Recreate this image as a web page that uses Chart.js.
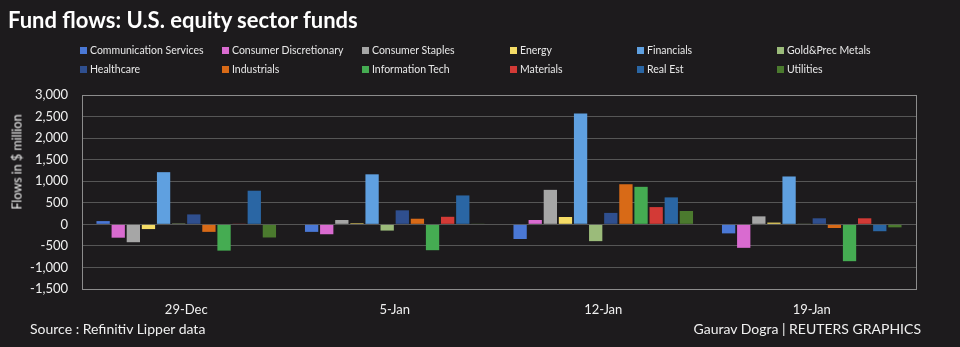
<!DOCTYPE html>
<html>
<head>
<meta charset="utf-8">
<script src="https://cdn.jsdelivr.net/npm/chart.js@4.4.0/dist/chart.umd.min.js"></script>
<style>
  html, body { margin: 0; padding: 0; background: #1d1b1d; }
  #wrap { position: relative; width: 960px; height: 347px; background: #1d1b1d; font-family: Lato, "Open Sans", sans-serif; color: #fff; overflow: hidden; }
  #title { position: absolute; left: 8px; top: 6px; font-size: 22px; font-weight: bold; color: #fff; white-space: nowrap; }
  #legend { position: absolute; left: 80px; top: 43px; display: grid; grid-template-columns: 142px 140px 148px 127px 140px 150px; row-gap: 5px; font-size: 10.5px; color: #e8e8e8; }
  #legend div { display: flex; align-items: center; white-space: nowrap; height: 14px; }
  #legend span { display: inline-block; width: 7px; height: 7px; margin-right: 3px; }
  #ytitle { position: absolute; left: 17px; top: 162px; transform: translate(-50%, -50%) rotate(-90deg); font-size: 12.5px; color: #f0f0f0; white-space: nowrap; }
  #src { position: absolute; left: 30px; top: 320px; font-size: 14px; color: #f0f0f0; }
  #credit { position: absolute; right: 39px; top: 320px; font-size: 14px; color: #f0f0f0; }
  canvas { position: absolute; left: 0; top: 0; }
</style>
</head>
<body>
<div id="wrap">
  <canvas id="chart" width="960" height="347"></canvas>
  <div id="title">Fund flows: U.S. equity sector funds</div>
  <div id="legend"></div>
  <div id="ytitle">Flows in $ million</div>
  <div id="src">Source : Refinitiv Lipper data</div>
  <div id="credit">Gaurav Dogra | REUTERS GRAPHICS</div>
</div>
<script>
const weeks = ['29-Dec', '5-Jan', '12-Jan', '19-Jan'];

const sectors = [
    'Communication Services', 'Consumer Discretionary', 'Consumer Staples', 'Energy',
    'Financials', 'Gold&Prec Metals', 'Healthcare', 'Industrials',
    'Information Tech', 'Materials', 'Real Est', 'Utilities'
];

const sectorColors = [
    '#4a78d6', '#d96bd0', '#a6a6a6', '#f5dc66',
    '#5fa0e0', '#9bbb7a', '#2f4f8f', '#d86a17',
    '#45ac52', '#d33a36', '#2a66a4', '#4b7a2e'
];

// flows in $ million, one array per sector (29-Dec, 5-Jan, 12-Jan, 19-Jan)
const commServices  = [75, -175, -340, -210];
const consDiscr     = [-310, -230, 100, -545];
const consStaples   = [-415, 100, 800, 185];
const energy        = [-110, 25, 170, 40];
const financials    = [1210, 1160, 2570, 1110];
const goldMetals    = [20, -145, -390, 15];
const healthcare    = [230, 325, 265, 140];
const industrials   = [-175, 130, 930, -85];
const infoTech      = [-610, -600, 870, -855];
const materials     = [15, 175, 400, 140];
const realEstate    = [780, 670, 625, -160];
const utilities     = [-305, 15, 310, -70];

const sectorValues = [commServices, consDiscr, consStaples, energy, financials, goldMetals,
    healthcare, industrials, infoTech, materials, realEstate, utilities];

const yTicks = [3000, 2500, 2000, 1500, 1000, 500, 0, -500, -1000, -1500];

// html legend, two rows of six
const legendEl = document.getElementById('legend');
sectors.forEach((name, i) => {
    const item = document.createElement('div');
    item.innerHTML = `<span style="background:${sectorColors[i]}"></span>${name}`;
    legendEl.appendChild(item);
});

// plot frame like the excel one
const framePlugin = {
    id: 'frame',
    afterDraw(chart) {
        const { ctx, chartArea } = chart;
        ctx.save();
        ctx.strokeStyle = '#8c8c8c';
        ctx.lineWidth = 1;
        ctx.strokeRect(Math.round(chartArea.left) + 0.5, Math.round(chartArea.top) + 0.5,
            Math.round(chartArea.right - chartArea.left), Math.round(chartArea.bottom - chartArea.top));
        ctx.restore();
    }
};

const ctx = document.getElementById('chart').getContext('2d');
new Chart(ctx, {
    type: 'bar',
    data: {
        labels: weeks,
        datasets: sectors.map((name, i) => ({
            label: name,
            data: sectorValues[i],
            backgroundColor: sectorColors[i],
            borderWidth: 0,
            categoryPercentage: 0.87,
            barPercentage: 0.88,
        })),
    },
    options: {
        responsive: false,
        animation: false,
        layout: { padding: { top: 95, right: 44, bottom: 0, left: 0 } },
        plugins: {
            legend: { display: false },
            tooltip: { enabled: false },
        },
        scales: {
            x: {
                grid: { display: false },
                border: { display: false },
                ticks: { color: '#f0f0f0', font: { family: 'Lato', size: 13 }, padding: 5 },
                afterFit(scale) { scale.height = 58; },
            },
            y: {
                min: -1500,
                max: 3000,
                afterBuildTicks(scale) { scale.ticks = yTicks.map(v => ({ value: v })); },
                afterFit(scale) { scale.width = 82; },
                grid: { color: '#565656', drawTicks: false, lineWidth: 1 },
                border: { display: false },
                ticks: {
                    color: '#f0f0f0',
                    font: { family: 'Lato', size: 13 },
                    padding: 14,
                    callback: v => v.toLocaleString('en-US'),
                },
            },
        },
    },
    plugins: [framePlugin],
});
</script>
</body>
</html>
